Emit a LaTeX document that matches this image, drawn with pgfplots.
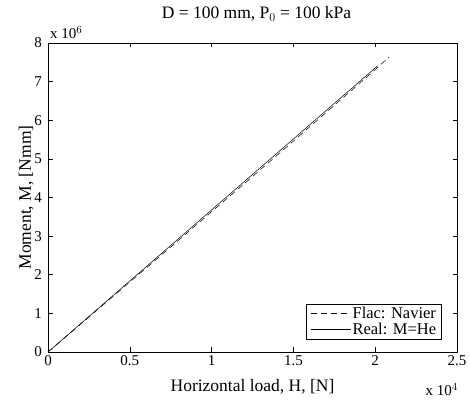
\documentclass[border=0pt]{standalone}
\usepackage{pgfplots}
\pgfplotsset{compat=1.18}
\usepackage{fontspec}
\setmainfont{Liberation Serif}
\begin{document}
\begin{tikzpicture}[x=1pt,y=1pt]
\useasboundingbox (0,0) rectangle (470,403);
\begin{axis}[
  at={(48pt,51pt)}, anchor=south west,
  scale only axis, width=409pt, height=309pt,
  xmin=0, xmax=25000, ymin=0, ymax=8000000,
  xtick={0,5000,10000,15000,20000,25000},
  xticklabels={0,0.5,1,1.5,2,2.5},
  ytick={0,1000000,2000000,3000000,4000000,5000000,6000000,7000000,8000000},
  yticklabels={0,1,2,3,4,5,6,7,8},
  scaled ticks=false,
  tick align=inside, tick pos=both,
  major tick length=4.5pt,
  tick style={black, line width=0.5pt},
  axis line style={line width=0.7pt},
  xticklabel style={font=\fontsize{15}{17}\selectfont, inner sep=1pt, yshift=-2pt},
  yticklabel style={font=\fontsize{15}{17}\selectfont, inner sep=1pt, xshift=-5pt},
  title={D = 100 mm, P$_{0}$ = 100 kPa},
  title style={font=\fontsize{17.5}{20}\selectfont, at={(axis description cs:0.5,1)}, anchor=base, yshift=18pt, xshift=4pt},
  xlabel={Horizontal load, H, [N]},
  xlabel style={font=\fontsize{17.5}{20}\selectfont, at={(axis description cs:0.5,0)}, anchor=base, yshift=-40pt},
  ylabel={Moment, M, [Nmm]},
  ylabel style={font=\fontsize{17.5}{20}\selectfont, at={(axis description cs:-0.0416,0.5)}, anchor=base},
  legend style={at={(0.963,0.042)}, anchor=south east, draw=black, line width=0.5pt,
    font=\fontsize{16.5}{18}\selectfont, inner xsep=4pt, inner ysep=1.5pt, row sep=0pt,
    nodes={inner sep=1.5pt}},
  legend image code/.code={\draw[#1] (0pt,0pt) -- (40pt,0pt);},
  legend cell align=left,
  clip=false,
]
\addplot[black, line width=0.5pt, dash pattern=on 6pt off 4pt] coordinates {
(0,0) (2000,720000) (5000,1810000) (8000,2900000) (10000,3630000)
(12000,4360000) (15000,5460000) (18000,6570000) (20000,7310000) (20850,7640000)};
\addlegendentry{Flac: Navier}
\addplot[black, line width=0.5pt] coordinates {(0,0) (20150,7410000)};
\addlegendentry{Real: M=He}
\node[anchor=base west, inner sep=0pt, font=\fontsize{15}{17}\selectfont] at (rel axis cs:0,1) [xshift=2pt, yshift=4pt] {x 10$^{6}$};
\node[anchor=base east, inner sep=0pt, font=\fontsize{15}{17}\selectfont] at (rel axis cs:1,0) [xshift=1pt, yshift=-44pt] {x 10$^{4}$};
\end{axis}
\end{tikzpicture}
\end{document}
